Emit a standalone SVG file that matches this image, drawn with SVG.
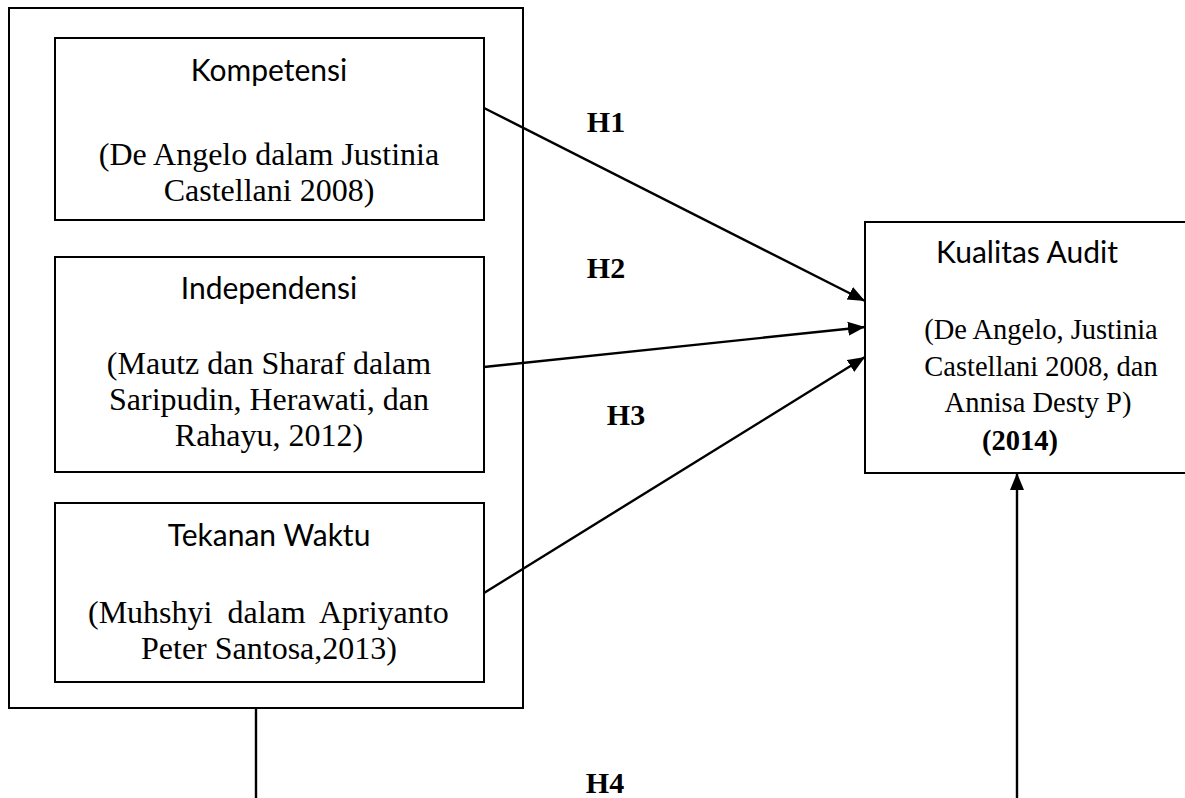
<svg xmlns="http://www.w3.org/2000/svg" width="1185" height="798" viewBox="0 0 1185 798">
<style>
.box{fill:#fff;stroke:#000;stroke-width:2}
.outer{fill:#fff;stroke:#000;stroke-width:2}
.t{font-family:"Liberation Serif","Times New Roman",serif;font-size:32px;fill:#000;text-anchor:middle}
.r{font-family:"Liberation Serif","Times New Roman",serif;font-size:28.5px;fill:#000;text-anchor:middle}
.s{font-family:Lato,"Liberation Sans",sans-serif;font-size:30px;fill:#000;text-anchor:middle}
.h{font-family:"Liberation Serif","Times New Roman",serif;font-size:30px;font-weight:bold;fill:#000;text-anchor:middle}
.c{stroke:#000;stroke-width:2.4;fill:none}
</style>
<defs>
<marker id="ah" markerUnits="userSpaceOnUse" markerWidth="18" markerHeight="16" refX="17" refY="8" orient="auto">
<path d="M0,1 L17,8 L0,15 Z" fill="#000"/>
</marker>
</defs>
<rect width="1185" height="798" fill="#fff"/>
<g id="group-independent">
<rect class="outer" x="9" y="8" width="514" height="700"/>
</g>
<g id="kompetensi">
<rect class="box" x="55" y="38" width="429" height="182"/>
<text class="s" x="269" y="81">Kompetensi</text>
<text class="t" x="269" y="165">(De Angelo dalam Justinia</text>
<text class="t" x="269" y="201">Castellani 2008)</text>
</g>
<g id="independensi">
<rect class="box" x="55" y="257" width="429" height="215"/>
<text class="s" x="269" y="299">Independensi</text>
<text class="t" x="269" y="374">(Mautz dan Sharaf dalam</text>
<text class="t" x="269" y="410">Saripudin, Herawati, dan</text>
<text class="t" x="269" y="446">Rahayu, 2012)</text>
</g>
<g id="tekanan-waktu">
<rect class="box" x="55" y="503" width="429" height="179"/>
<text class="s" x="269" y="546">Tekanan Waktu</text>
<text class="t" x="88" y="623" style="text-anchor:start" word-spacing="7">(Muhshyi dalam Apriyanto</text>
<text class="t" x="269" y="659">Peter Santosa,2013)</text>
</g>
<g id="kualitas-audit">
<rect class="box" x="865" y="222" width="340" height="251"/>
<text class="s" x="1027" y="263">Kualitas Audit</text>
<text class="r" x="1041" y="339">(De Angelo, Justinia</text>
<text class="r" x="1041" y="376">Castellani 2008, dan</text>
<text class="r" x="1038" y="412">Annisa Desty P)</text>
<text class="r" x="1020" y="450" font-weight="bold">(2014)</text>
</g>
<g id="connectors">
<line class="c" x1="484" y1="108" x2="865" y2="301" marker-end="url(#ah)"/>
<line class="c" x1="484" y1="367" x2="865" y2="327" marker-end="url(#ah)"/>
<line class="c" x1="484" y1="593" x2="865" y2="357" marker-end="url(#ah)"/>
<line class="c" x1="256" y1="708" x2="256" y2="798"/>
<line class="c" x1="1017" y1="798" x2="1017" y2="473" marker-end="url(#ah)"/>
<text class="h" x="606" y="132">H1</text>
<text class="h" x="606" y="278">H2</text>
<text class="h" x="626" y="425">H3</text>
<text class="h" x="605" y="793">H4</text>
</g>
</svg>
